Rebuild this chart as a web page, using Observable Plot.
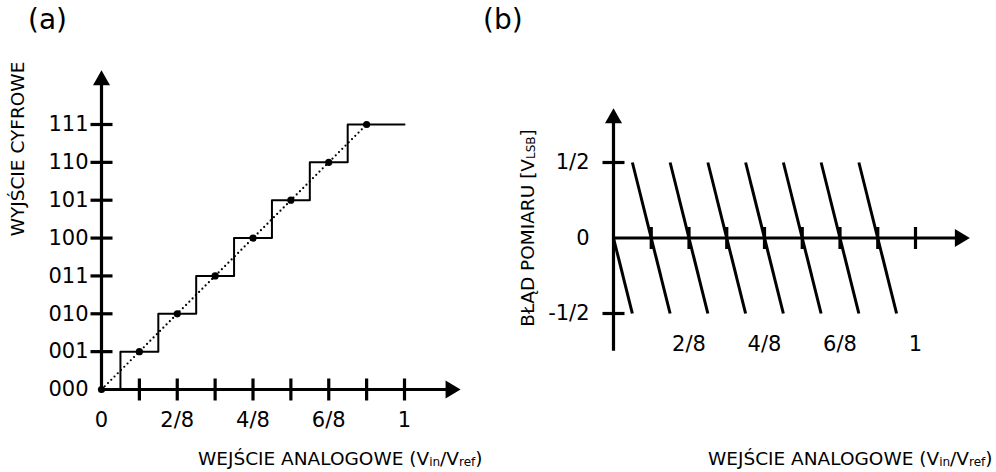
<!DOCTYPE html>
<html>
<head>
<meta charset="utf-8">
<script src="https://cdn.jsdelivr.net/npm/d3@7"></script>
<script src="https://cdn.jsdelivr.net/npm/@observablehq/plot@0.6"></script>
<style>
  html, body { margin: 0; padding: 0; background: #fff; }
  #wrap { position: relative; width: 996px; height: 472px; font-family: "DejaVu Sans", sans-serif; color: #000; overflow: hidden; }
  .lbl { position: absolute; white-space: nowrap; line-height: 1; }
  .ttl { font-size: 18.5px; }
  .panel { font-size: 28px; }
  .sub { font-size: 0.65em; vertical-align: -0.12em; }
  svg { position: absolute; top: 0; overflow: visible; }
</style>
</head>
<body>
<div id="wrap">
  <div class="lbl panel" style="left:28px; top:20px; transform:translateY(-50%);">(a)</div>
  <div class="lbl panel" style="left:483px; top:20px; transform:translateY(-50%);">(b)</div>
  <div class="lbl ttl" style="left:198px; top:459px; transform:translateY(-50%);">WEJŚCIE ANALOGOWE (V<span class="sub">in</span>/V<span class="sub">ref</span>)</div>
  <div class="lbl ttl" style="left:708px; top:459px; transform:translateY(-50%);">WEJŚCIE ANALOGOWE (V<span class="sub">in</span>/V<span class="sub">ref</span>)</div>
  <div class="lbl ttl" style="left:18px; top:149px; transform:translate(-50%,-50%) rotate(-90deg);">WYJŚCIE CYFROWE</div>
  <div class="lbl ttl" style="left:528px; top:228px; transform:translate(-50%,-50%) rotate(-90deg);">BŁĄD POMIARU [V<span class="sub">LSB</span>]</div>
</div>
<script>
// ---- data: panel (a) transfer characteristic ----
const codeLevels = [1, 2, 3, 4, 5, 6, 7];
const codeLabelLevels = [0, 1, 2, 3, 4, 5, 6, 7];
const codeLabels = ["000", "001", "010", "011", "100", "101", "110", "111"];
const xTickValues = [0.125, 0.25, 0.375, 0.5, 0.625, 0.75, 0.875, 1];
const xLabelValuesA = [0, 0.25, 0.5, 0.75, 1];
const xLabelTextsA = ["0", "2/8", "4/8", "6/8", "1"];
const stepX = [0, 0.0625, 0.1875, 0.3125, 0.4375, 0.5625, 0.6875, 0.8125, 0.9375, 1];
const stepLevel = [0, 1, 2, 3, 4, 5, 6, 7, 7, 7];
const idealX = [0, 0.125, 0.25, 0.375, 0.5, 0.625, 0.75, 0.875];
const idealLevel = [0, 1, 2, 3, 4, 5, 6, 7];
const axisEndA = { x: 1.185, y: 8.43 };

// ---- data: panel (b) quantisation error ----
const errStartX = [0, 0.0625, 0.1875, 0.3125, 0.4375, 0.5625, 0.6875, 0.8125];
const errStartY = [0, 0.5, 0.5, 0.5, 0.5, 0.5, 0.5, 0.5];
const errEndX = [0.0625, 0.1875, 0.3125, 0.4375, 0.5625, 0.6875, 0.8125, 0.9375];
const errEndY = [-0.5, -0.5, -0.5, -0.5, -0.5, -0.5, -0.5, -0.5];
const errTickValues = [-0.5, 0.5];
const errLabelValues = [0.5, 0, -0.5];
const errLabelTexts = ["1/2", "0", "-1/2"];
const xLabelValuesB = [0.25, 0.5, 0.75, 1];
const xLabelTextsB = ["2/8", "4/8", "6/8", "1"];
const axisEndB = { x: 1.18, yTop: 0.86, yBottom: -0.75 };

// ---- custom symbols (arrowheads, crossing ticks) ----
const arrowRight = { draw(c) { c.moveTo(0, 0); c.lineTo(-15, -9); c.lineTo(-15, 9); c.closePath(); } };
const arrowUp = { draw(c) { c.moveTo(0, 0); c.lineTo(-8.5, 15); c.lineTo(8.5, 15); c.closePath(); } };
const tickV = { draw(c) { c.moveTo(0, -11); c.lineTo(0, 11); } };
const tickH = { draw(c) { c.moveTo(-11, 0); c.lineTo(11, 0); } };

const FONT = "DejaVu Sans";

// ---------------- panel (a) ----------------
const plotA = Plot.plot({
  width: 498,
  height: 472,
  x: { domain: [0, 1], range: [101, 404], axis: null },
  y: { domain: [0, 7], range: [389, 124], axis: null },
  style: { fontFamily: FONT, overflow: "visible", background: "transparent" },
  marks: [
    // dotted ideal line
    Plot.line(idealX, { x: idealX, y: idealLevel, stroke: "black", strokeWidth: 2.2, strokeDasharray: "0,4.6", strokeLinecap: "round" }),
    // staircase
    Plot.line(stepX, { x: stepX, y: stepLevel, curve: "step-after", stroke: "black", strokeWidth: 2 }),
    Plot.dot(idealX, { x: idealX, y: idealLevel, r: 3.6, fill: "black", stroke: "none" }),
    // axes
    Plot.ruleY([0], { x1: 0, x2: axisEndA.x - 0.03, stroke: "black", strokeWidth: 3.2 }),
    Plot.ruleX([0], { y1: 0, y2: axisEndA.y - 0.2, stroke: "black", strokeWidth: 3.2 }),
    Plot.dot([0], { x: axisEndA.x, y: 0, symbol: arrowRight, fill: "black", stroke: "none" }),
    Plot.dot([0], { x: 0, y: axisEndA.y, symbol: arrowUp, fill: "black", stroke: "none" }),
    // ticks
    Plot.dot(xTickValues, { x: xTickValues, y: 0, symbol: tickV, fill: "none", stroke: "black", strokeWidth: 3.2 }),
    Plot.dot(codeLevels, { x: 0, y: codeLevels, symbol: tickH, fill: "none", stroke: "black", strokeWidth: 3.2 }),
    // tick labels
    Plot.text(codeLabelLevels, { x: 0, y: codeLabelLevels, text: codeLabels, dx: -13, textAnchor: "end", fontSize: 21, fill: "black" }),
    Plot.text(xLabelValuesA, { x: xLabelValuesA, y: 0, text: xLabelTextsA, dy: 31, fontSize: 21, fill: "black" })
  ]
});
plotA.style.left = "0px";
document.getElementById("wrap").appendChild(plotA);

// ---------------- panel (b) ----------------
const plotB = Plot.plot({
  width: 498,
  height: 472,
  x: { domain: [0, 1], range: [115, 417], axis: null },
  y: { domain: [-0.5, 0.5], range: [313, 162], axis: null },
  style: { fontFamily: FONT, overflow: "visible", background: "transparent" },
  marks: [
    Plot.link(errStartX, { x1: errStartX, y1: errStartY, x2: errEndX, y2: errEndY, stroke: "black", strokeWidth: 3 }),
    // axes
    Plot.ruleY([0], { x1: 0, x2: axisEndB.x - 0.03, stroke: "black", strokeWidth: 3.2 }),
    Plot.ruleX([0], { y1: axisEndB.yBottom, y2: axisEndB.yTop - 0.05, stroke: "black", strokeWidth: 3.2 }),
    Plot.dot([0], { x: axisEndB.x, y: 0, symbol: arrowRight, fill: "black", stroke: "none" }),
    Plot.dot([0], { x: 0, y: axisEndB.yTop, symbol: arrowUp, fill: "black", stroke: "none" }),
    // ticks
    Plot.dot(xTickValues, { x: xTickValues, y: 0, symbol: tickV, fill: "none", stroke: "black", strokeWidth: 3.2 }),
    Plot.dot(errTickValues, { x: 0, y: errTickValues, symbol: tickH, fill: "none", stroke: "black", strokeWidth: 3.2 }),
    // tick labels
    Plot.text(errLabelValues, { x: 0, y: errLabelValues, text: errLabelTexts, dx: -24, textAnchor: "end", fontSize: 21, fill: "black" }),
    Plot.text(xLabelValuesB, { x: xLabelValuesB, y: -0.5, text: xLabelTextsB, dy: 31, fontSize: 21, fill: "black" })
  ]
});
plotB.style.left = "498px";
document.getElementById("wrap").appendChild(plotB);
</script>
</body>
</html>
